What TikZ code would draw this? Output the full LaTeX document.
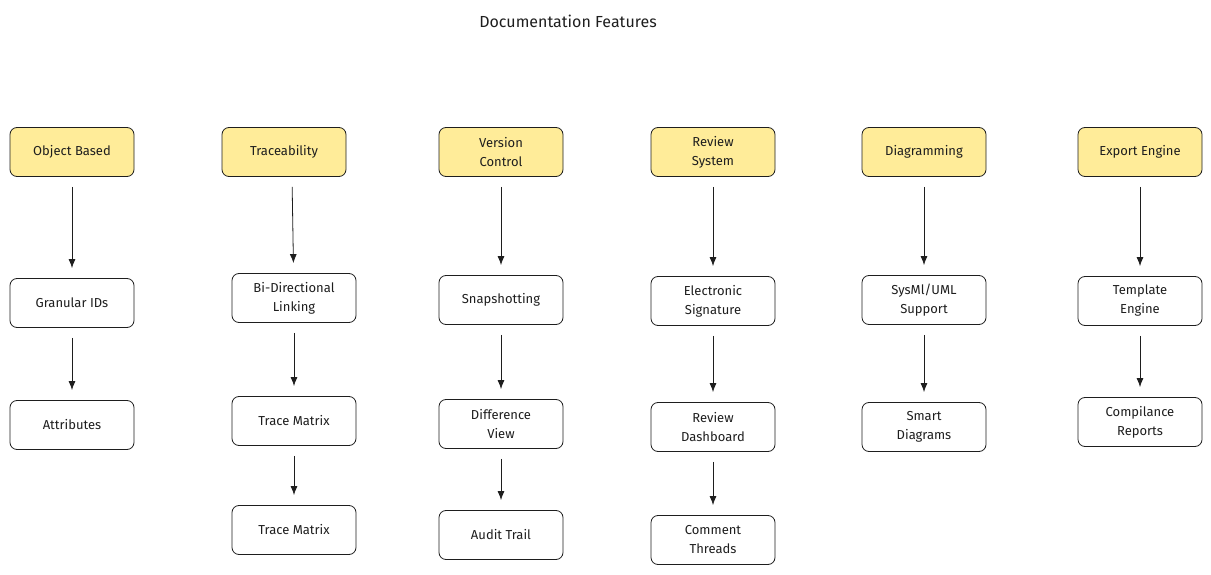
\documentclass[tikz,border=0pt]{standalone}
\usepackage{fontspec}
\setmainfont{Fira Sans}
\usetikzlibrary{arrows.meta}
\definecolor{headfill}{HTML}{FFEC99}
\definecolor{ink}{HTML}{1E1E1E}
\tikzset{
  box/.style={draw=ink, line width=0.8pt, rounded corners=7pt, fill=white,
    minimum width=124pt, minimum height=49pt, align=center,
    font=\fontsize{13}{19}\selectfont, text=ink},
  headbox/.style={box, fill=headfill},
  link/.style={-{Latex[length=9pt,width=7pt]}, draw=ink, line width=0.8pt,
    shorten <=10pt, shorten >=10pt}
}
\begin{document}
\begin{tikzpicture}[x=1pt,y=-1pt]
  \useasboundingbox (0,0) rectangle (1211,575);

  % Title.
  \node (title) at (568,21) [font=\fontsize{16}{18}\selectfont, text=ink] {Documentation Features};

  % Column heads.
  \node[headbox] (obj) at (72,152) {Object Based};
  \node[headbox] (trc) at (284,152) {Traceability};
  \node[headbox] (ver) at (501,152) {Version\\Control};
  \node[headbox] (rev) at (713,152) {Review\\System};
  \node[headbox] (dia) at (924,152) {Diagramming};
  \node[headbox] (exp) at (1140,152) {Export Engine};

  % Object based.
  \node[box] (gid) at (72,303) {Granular IDs};
  \node[box] (att) at (72,425) {Attributes};

  % Traceability.
  \node[box] (bid) at (294,298) {Bi-Directional\\Linking};
  \node[box] (tm1) at (294,421) {Trace Matrix};
  \node[box] (tm2) at (294,530) {Trace Matrix};

  % Version control.
  \node[box] (snp) at (501,300) {Snapshotting};
  \node[box] (dif) at (501,424) {Difference\\View};
  \node[box] (aud) at (501,535) {Audit Trail};

  % Review system.
  \node[box] (sig) at (713,301) {Electronic\\Signature};
  \node[box] (dsh) at (713,427) {Review\\Dashboard};
  \node[box] (cmt) at (713,540) {Comment\\Threads};

  % Diagramming.
  \node[box] (sml) at (924,300) {SysMl/UML\\Support};
  \node[box] (smd) at (924,427) {Smart\\Diagrams};

  % Export engine.
  \node[box] (tpl) at (1140,301) {Template\\Engine};
  \node[box] (cmp) at (1140,422) {Compilance\\Reports};

  % Connectors.
  \draw[link] (obj) -- (gid);
  \draw[link] (gid) -- (att);
  \draw[link] (trc.south) ++(8,0) coordinate (trcs) (trcs) -- (bid);
  \draw[link] (bid) -- (tm1);
  \draw[link] (tm1) -- (tm2);
  \draw[link] (ver) -- (snp);
  \draw[link] (snp) -- (dif);
  \draw[link] (dif) -- (aud);
  \draw[link] (rev) -- (sig);
  \draw[link] (sig) -- (dsh);
  \draw[link] (dsh) -- (cmt);
  \draw[link] (dia) -- (sml);
  \draw[link] (sml) -- (smd);
  \draw[link] (exp) -- (tpl);
  \draw[link] (tpl) -- (cmp);
\end{tikzpicture}
\end{document}
